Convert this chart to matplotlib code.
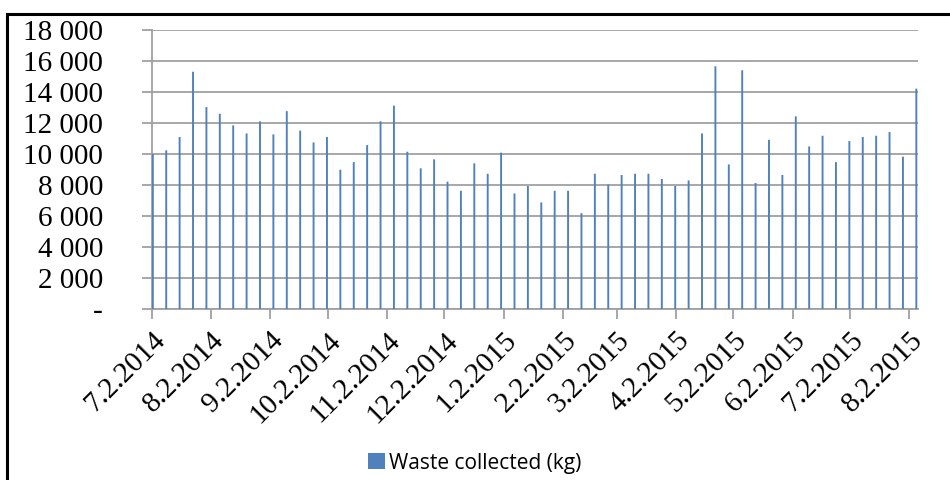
import matplotlib
matplotlib.use("Agg")
import matplotlib.pyplot as plt
from matplotlib.ticker import FuncFormatter
from matplotlib.patches import Rectangle
import pandas as pd

# weekly collections, starting 2 July 2014
start_date = "2014-07-02"
waste_kg = [
    10000, 10240, 11100, 15310, 13030, 12600, 11850, 11330, 12110, 11270,
    12770, 11510, 10750, 11100, 8990, 9480, 10580, 12110, 13120, 10150,
    9080, 9660, 8220, 7630, 9400, 8730, 10090, 7460, 7940, 6880,
    7630, 7630, 6190, 8730, 8040, 8650, 8730, 8730, 8390, 7940,
    8300, 11330, 15660, 9330, 15400, 8130, 10920, 8650, 12430, 10490,
    11180, 9480, 10840, 11100, 11180, 11420, 9830, 14220,
]
tick_dates = pd.date_range("2014-07-02", periods=14, freq=pd.DateOffset(months=1))
y_ticks = list(range(0, 18001, 2000))

dates = pd.date_range(start_date, periods=len(waste_kg), freq="7D")

fig = plt.figure(figsize=(9.5, 4.8), dpi=100)
ax = fig.add_axes([0.1597, 0.356, 0.8063, 0.5815])

bars = ax.bar(dates + pd.Timedelta(hours=14), waste_kg, width=1.0, color="#4f81bd",
              linewidth=0, label="Waste collected (kg)", zorder=3)
for b in bars:
    b.set_snap(False)  # keep every thin bar the same width

ax.set_xlim(pd.Timestamp("2014-07-02"), dates[-1] + pd.Timedelta(days=1.3))
ax.set_ylim(0, 18000)
ax.set_yticks(y_ticks)
ax.yaxis.set_major_formatter(FuncFormatter(
    lambda v, p: "-" if v == 0 else f"{int(v):,}".replace(",", " ")))
ax.set_xticks(tick_dates)
ax.set_xticklabels([f"{d.month}.{d.day}.{d.year}" for d in tick_dates])

ax.grid(axis="y", color="#a0a0a0", linewidth=1.3, zorder=0)
for s in ["top", "right"]:
    ax.spines[s].set_visible(False)
for s in ["left", "bottom"]:
    ax.spines[s].set_color("#a0a0a0")
    ax.spines[s].set_linewidth(1.3)

serif = ["Liberation Serif", "DejaVu Serif"]
ax.tick_params(axis="both", color="#a0a0a0", width=1.3, length=7)
for lab in ax.get_yticklabels():
    lab.set_family(serif)
    lab.set_fontsize(21)
ax.tick_params(axis="y", pad=28)
for lab in ax.get_xticklabels():
    lab.set_family(serif)
    lab.set_fontsize(21)
    lab.set_rotation(45)
    lab.set_ha("right")
    lab.set_va("top")
    lab.set_rotation_mode("anchor")
ax.tick_params(axis="x", pad=6)

fig.legend(loc="center", bbox_to_anchor=(0.5, 0.035), frameon=False,
           handlelength=0.8, handleheight=0.8, handletextpad=0.2,
           prop={"family": ["Open Sans", "DejaVu Sans"], "size": 15})

# outer frame (only top and left edges fall inside the image)
fig.patches.append(Rectangle((7 / 950, -0.1), 1.2, (480 - 14) / 480 + 0.1,
                             transform=fig.transFigure, fill=False,
                             edgecolor="black", linewidth=2.2))

fig.savefig("out.png", dpi=100)
